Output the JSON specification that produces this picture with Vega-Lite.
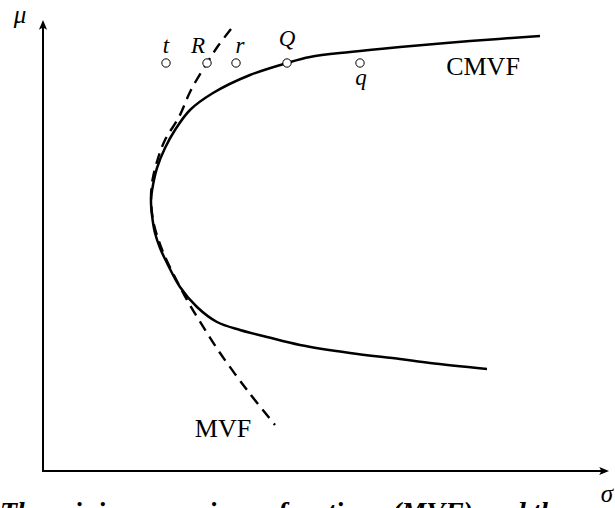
{
  "$schema": "https://vega.github.io/schema/vega-lite/v6.json",
  "width": 615,
  "height": 508,
  "padding": 0,
  "autosize": "none",
  "background": "white",
  "config": {"view": {"stroke": null}},
  "datasets": {
    "yaxis": [{"sigma": 0, "mu": -0.01, "i": 0}, {"sigma": 0, "mu": 4.45, "i": 1}],
    "xaxis": [{"sigma": -0.01, "mu": 0, "i": 0}, {"sigma": 5.6, "mu": 0, "i": 1}],
    "yarrow": [{"sigma": 0, "mu": 4.51}],
    "xarrow": [{"sigma": 5.66, "mu": 0}],
    "cmvf": [
      {"i": 0, "sigma": 4.97, "mu": 4.35},
      {"i": 1, "sigma": 4.27, "mu": 4.30},
      {"i": 2, "sigma": 3.57, "mu": 4.24},
      {"i": 3, "sigma": 3.07, "mu": 4.19},
      {"i": 4, "sigma": 2.67, "mu": 4.14},
      {"i": 5, "sigma": 2.44, "mu": 4.08},
      {"i": 6, "sigma": 2.07, "mu": 3.96},
      {"i": 7, "sigma": 1.70, "mu": 3.78},
      {"i": 8, "sigma": 1.47, "mu": 3.61},
      {"i": 9, "sigma": 1.32, "mu": 3.41},
      {"i": 10, "sigma": 1.22, "mu": 3.23},
      {"i": 11, "sigma": 1.14, "mu": 3.03},
      {"i": 12, "sigma": 1.10, "mu": 2.86},
      {"i": 13, "sigma": 1.08, "mu": 2.71},
      {"i": 14, "sigma": 1.09, "mu": 2.56},
      {"i": 15, "sigma": 1.12, "mu": 2.38},
      {"i": 16, "sigma": 1.17, "mu": 2.23},
      {"i": 17, "sigma": 1.24, "mu": 2.08},
      {"i": 18, "sigma": 1.37, "mu": 1.84},
      {"i": 19, "sigma": 1.54, "mu": 1.64},
      {"i": 20, "sigma": 1.74, "mu": 1.49},
      {"i": 21, "sigma": 1.97, "mu": 1.41},
      {"i": 22, "sigma": 2.24, "mu": 1.34},
      {"i": 23, "sigma": 2.57, "mu": 1.26},
      {"i": 24, "sigma": 3.07, "mu": 1.18},
      {"i": 25, "sigma": 3.57, "mu": 1.12},
      {"i": 26, "sigma": 3.87, "mu": 1.08},
      {"i": 27, "sigma": 4.44, "mu": 1.02}
    ],
    "mvf": [
      {"i": 0, "sigma": 1.88, "mu": 4.42},
      {"i": 1, "sigma": 1.75, "mu": 4.25},
      {"i": 2, "sigma": 1.64, "mu": 4.08},
      {"i": 3, "sigma": 1.48, "mu": 3.81},
      {"i": 4, "sigma": 1.36, "mu": 3.54},
      {"i": 5, "sigma": 1.22, "mu": 3.31},
      {"i": 6, "sigma": 1.145, "mu": 3.11},
      {"i": 7, "sigma": 1.095, "mu": 2.91},
      {"i": 8, "sigma": 1.08, "mu": 2.73},
      {"i": 9, "sigma": 1.10, "mu": 2.51},
      {"i": 10, "sigma": 1.155, "mu": 2.31},
      {"i": 11, "sigma": 1.235, "mu": 2.11},
      {"i": 12, "sigma": 1.35, "mu": 1.88},
      {"i": 13, "sigma": 1.44, "mu": 1.71},
      {"i": 14, "sigma": 1.56, "mu": 1.51},
      {"i": 15, "sigma": 1.75, "mu": 1.21},
      {"i": 16, "sigma": 2.04, "mu": 0.81},
      {"i": 17, "sigma": 2.32, "mu": 0.46}
    ],
    "portfolios": [
      {"name": "t", "sigma": 1.23, "mu": 4.08},
      {"name": "R", "sigma": 1.64, "mu": 4.08},
      {"name": "r", "sigma": 1.93, "mu": 4.08},
      {"name": "Q", "sigma": 2.44, "mu": 4.08},
      {"name": "q", "sigma": 3.17, "mu": 4.08}
    ],
    "portfolioLabels": [
      {"label": "t", "sigma": 1.23, "mu": 4.18},
      {"label": "R", "sigma": 1.55, "mu": 4.18},
      {"label": "r", "sigma": 1.97, "mu": 4.18},
      {"label": "Q", "sigma": 2.44, "mu": 4.25},
      {"label": "q", "sigma": 3.18, "mu": 3.86}
    ],
    "frontierLabels": [
      {"label": "CMVF", "sigma": 4.40, "mu": 3.96},
      {"label": "MVF", "sigma": 1.80, "mu": 0.34}
    ],
    "axisLabels": [
      {"label": "μ", "sigma": -0.23, "mu": 4.48},
      {"label": "σ", "sigma": 5.64, "mu": -0.31}
    ],
    "caption": [
      {"label": "The minimum variance frontier", "sigma": -0.43, "mu": -0.50},
      {"label": "(MVF)", "sigma": 3.49, "mu": -0.50},
      {"label": "and the", "sigma": 4.39, "mu": -0.50}
    ]
  },
  "encoding": {
    "x": {"field": "sigma", "type": "quantitative", "axis": null, "scale": {"domain": [-0.43, 5.72], "nice": false, "zero": false}},
    "y": {"field": "mu", "type": "quantitative", "axis": null, "scale": {"domain": [-0.37, 4.71], "nice": false, "zero": false}}
  },
  "layer": [
    {"data": {"name": "yaxis"}, "mark": {"type": "line", "color": "black", "strokeWidth": 2}, "encoding": {"order": {"field": "i"}}},
    {"data": {"name": "xaxis"}, "mark": {"type": "line", "color": "black", "strokeWidth": 2}, "encoding": {"order": {"field": "i"}}},
    {"data": {"name": "yarrow"}, "mark": {"type": "point", "shape": "M0,0 L-1,-0.42 L-0.78,0 L-1,0.42 Z", "angle": -90, "size": 380, "filled": true, "fill": "black", "strokeWidth": 0, "opacity": 1}},
    {"data": {"name": "xarrow"}, "mark": {"type": "point", "shape": "M0,0 L-1,-0.42 L-0.78,0 L-1,0.42 Z", "angle": 0, "size": 380, "filled": true, "fill": "black", "strokeWidth": 0, "opacity": 1}},
    {"data": {"name": "mvf"}, "mark": {"type": "line", "color": "black", "strokeWidth": 2.4, "strokeDash": [11, 7], "interpolate": "catmull-rom"}, "encoding": {"order": {"field": "i"}}},
    {"data": {"name": "cmvf"}, "mark": {"type": "line", "color": "black", "strokeWidth": 2.5, "interpolate": "catmull-rom"}, "encoding": {"order": {"field": "i"}}},
    {"data": {"name": "portfolios"}, "mark": {"type": "point", "shape": "circle", "size": 70, "filled": true, "fill": "white", "stroke": "black", "strokeWidth": 1, "opacity": 1}},
    {"data": {"name": "portfolioLabels"}, "mark": {"type": "text", "font": "Liberation Serif", "fontStyle": "italic", "fontSize": 23, "align": "center", "baseline": "alphabetic", "color": "black"}, "encoding": {"text": {"field": "label"}}},
    {"data": {"name": "frontierLabels"}, "mark": {"type": "text", "font": "Liberation Serif", "fontSize": 26, "align": "center", "baseline": "alphabetic", "color": "black"}, "encoding": {"text": {"field": "label"}}},
    {"data": {"name": "axisLabels"}, "mark": {"type": "text", "font": "Liberation Serif", "fontStyle": "italic", "fontSize": 25, "align": "center", "baseline": "alphabetic", "color": "black"}, "encoding": {"text": {"field": "label"}}},
    {"data": {"name": "caption"}, "mark": {"type": "text", "font": "Liberation Serif", "fontStyle": "italic", "fontWeight": "bold", "fontSize": 28, "align": "left", "baseline": "alphabetic", "color": "black"}, "encoding": {"text": {"field": "label"}}}
  ]
}
